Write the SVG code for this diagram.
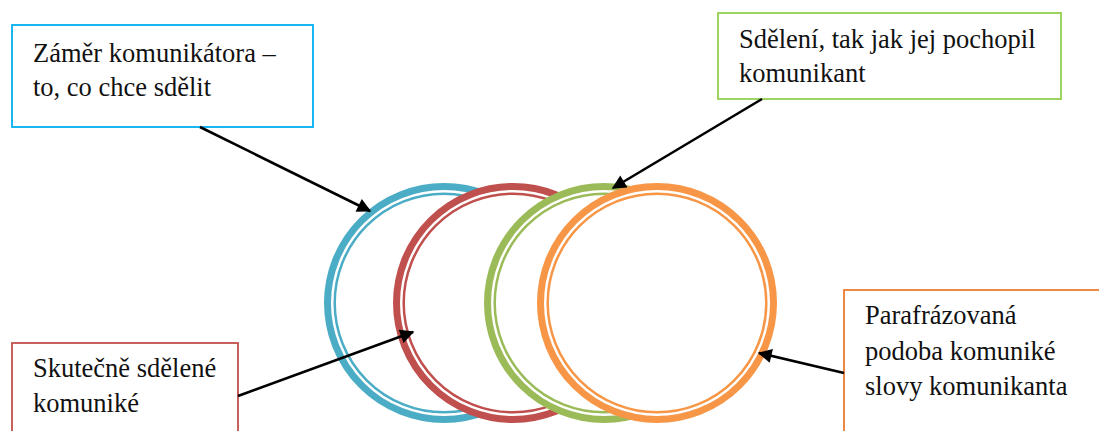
<svg xmlns="http://www.w3.org/2000/svg" width="1099" height="431" viewBox="0 0 1099 431">
<style>
.box{fill:#ffffff;stroke-width:1.8}
.t{font-family:'Liberation Serif','Times New Roman',serif;font-size:26.5px;fill:#111111}
.ring{fill:#ffffff;stroke-width:7}
.thin{fill:none;stroke-width:2.5}
.conn{stroke:#000000;stroke-width:2.6;fill:none;marker-end:url(#ah)}
</style>
<defs>
<marker id="ah" viewBox="0 0 10 10" refX="9" refY="5" markerWidth="6.2" markerHeight="5.4" markerUnits="strokeWidth" orient="auto">
<path d="M0,0 L10,5 L0,10 Z" fill="#000000"/>
</marker>
</defs>
<rect width="1099" height="431" fill="#ffffff"/>
<g id="circles">
<g id="circle-blue" stroke="#4bacc6">
<circle class="ring" cx="444" cy="303" r="116.5"/>
<circle class="thin" cx="444" cy="303" r="109.3"/>
</g>
<g id="circle-red" stroke="#c0504d">
<circle class="ring" cx="513" cy="303" r="116.5"/>
<circle class="thin" cx="513" cy="303" r="109.3"/>
</g>
<g id="circle-green" stroke="#9bbb59">
<circle class="ring" cx="604" cy="303" r="116.5"/>
<circle class="thin" cx="604" cy="303" r="109.3"/>
</g>
<g id="circle-orange" stroke="#f79646">
<circle class="ring" cx="657" cy="303" r="116.5"/>
<circle class="thin" cx="657" cy="303" r="109.3"/>
</g>
</g>
<g id="box-zamer">
<rect class="box" x="12" y="25" width="301" height="102" stroke="#00b0f0"/>
<text class="t" x="33" y="62">Záměr komunikátora –</text>
<text class="t" x="33" y="96">to, co chce sdělit</text>
</g>
<g id="box-sdeleni">
<rect class="box" x="718" y="13" width="343" height="86" stroke="#92d050"/>
<text class="t" x="739" y="48">Sdělení, tak jak jej pochopil</text>
<text class="t" x="739" y="82">komunikant</text>
</g>
<g id="box-skutecne">
<rect class="box" x="12" y="343" width="226" height="100" stroke="#c0504d"/>
<text class="t" x="33" y="377">Skutečně sdělené</text>
<text class="t" x="33" y="412">komuniké</text>
</g>
<g id="box-parafrazovana">
<rect class="box" x="844" y="290" width="265" height="160" stroke="#ed7d31"/>
<text class="t" x="865" y="324">Parafrázovaná</text>
<text class="t" x="865" y="360">podoba komuniké</text>
<text class="t" x="865" y="395">slovy komunikanta</text>
</g>
<g id="connectors">
<line class="conn" x1="200" y1="127" x2="370" y2="211"/>
<line class="conn" x1="762" y1="99" x2="613" y2="188"/>
<line class="conn" x1="238" y1="396" x2="413" y2="332"/>
<line class="conn" x1="844" y1="373" x2="759" y2="353"/>
</g>
</svg>
